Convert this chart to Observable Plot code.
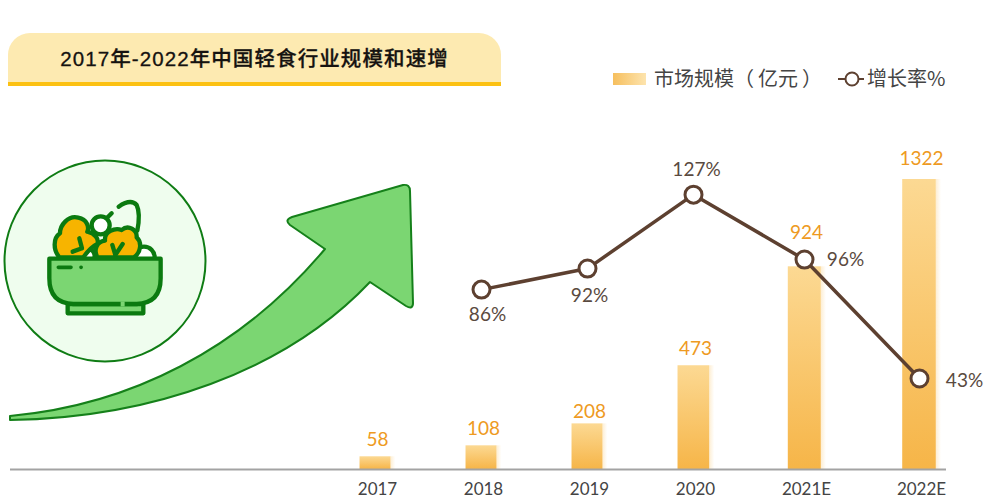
<!DOCTYPE html>
<html lang="zh">
<head>
<meta charset="utf-8">
<script src="https://cdn.jsdelivr.net/npm/d3@7"></script>
<script src="https://cdn.jsdelivr.net/npm/@observablehq/plot@0.6"></script>
<style>
  html, body { margin: 0; padding: 0; background: #fff; overflow: hidden; }
  #stage { position: relative; width: 991px; height: 500px; font-family: "Noto Sans CJK SC", sans-serif; }
  #decor, #chart { position: absolute; left: 0; top: 0; width: 991px; height: 500px; }
  #chart svg { display: block; width: 991px; max-width: none; height: 500px; background: transparent; }
  .banner { position: absolute; left: 8px; top: 33px; width: 493px; height: 49px; background: #fdeab1; border-radius: 22px 22px 0 0; border-bottom: 4px solid #fcc112; }
  .banner div { position: absolute; left: 0; right: 0; top: 12px; text-align: center; font-family: "Liberation Sans", "Noto Sans CJK SC", sans-serif; font-size: 20.5px; line-height: 28px; font-weight: 500; letter-spacing: 1.1px; color: #151210; white-space: nowrap; -webkit-text-stroke: .3px #151210; }
  .legend { position: absolute; top: 64px; font-size: 20px; line-height: 28px; color: #444; white-space: nowrap; }
  .legend span { margin: 0 4px; }
  .swatch { position: absolute; left: 613px; top: 73px; width: 33px; height: 12px; background: linear-gradient(90deg, #f6bf5e, #fde4ae); }
</style>
</head>
<body>
<div id="stage">
  <svg id="decor" width="991" height="500" viewBox="0 0 991 500">
    <circle cx="105" cy="261" r="100.5" fill="#effdee" stroke="#0f7c14" stroke-width="2"/>
    <g transform="translate(0,150) scale(.3333)" stroke="#0b7a10" stroke-width="13" stroke-linejoin="round" stroke-linecap="round">
      <path d="M356 170 Q392 145 410 165 Q422 190 412 242" fill="none"/>
      <path d="M320 205 L335 190" fill="none"/>
      <circle cx="302" cy="226" r="27" fill="#fff"/>
      <circle cx="432" cy="322" r="32" fill="#fff"/>
      <circle cx="262" cy="318" r="22" fill="#fff"/>
      <path d="M178 322 C160 300 158 265 180 250 C180 225 205 195 235 203 C262 208 268 232 262 245 C285 250 298 268 292 282 C275 290 262 305 250 322 Z" fill="#f7b400"/>
      <path d="M292 322 C280 300 290 275 315 272 C312 245 345 232 365 240 C385 222 412 240 410 262 C425 275 425 305 402 322 Z" fill="#f7b400"/>
      <path d="M238 265 L246 295 M218 305 L246 295" fill="none"/>
      <path d="M337 285 L346 315 M368 282 L346 315" fill="none"/>
      <path d="M203 462 V490 H430 V462 Z" fill="#7bd672"/>
      <path d="M148 326 H482 V385 Q482 460 410 462 H220 Q148 460 148 385 Z" fill="#7bd672"/>
      <path d="M362 462 H374" stroke="#7bd672" stroke-width="15" stroke-linecap="butt"/>
      <path d="M175 352 H213 M243 352 H243.5" fill="none" stroke-width="11"/>
    </g>
    <path d="M10 416 C130 405 240 350 325 249 L290 225 Q284 220 292 217 L403 185 Q410 184 410 191 L413 303 Q413 310 406 306 L370 282 C285 372 150 418 10 420 Z" fill="#7bd672" stroke="#15801a" stroke-width="2" stroke-linejoin="round"/>
  </svg>
  <div id="chart"></div>
  <div class="banner"><div>2017年-2022年中国轻食行业规模和速增</div></div>
  <div class="swatch"></div>
  <div class="legend" style="left:654px">市场规模（<span>亿元</span>）</div>
  <svg style="position:absolute;left:836px;top:68px" width="30" height="22">
    <line x1="2" y1="11" x2="28" y2="11" stroke="#5d4030" stroke-width="2"/>
    <circle cx="16" cy="11" r="6.5" fill="#fff" stroke="#5d4030" stroke-width="2"/>
  </svg>
  <div class="legend" style="left:867px">增长率%</div>
</div>
<script>
const years = ["2017", "2018", "2019", "2020", "2021E", "2022E"];
const marketSize = [58, 108, 208, 473, 924, 1322];
const growthYears = ["2018", "2019", "2020", "2021E", "2022E"];
const growthRate = [86, 92, 127, 96, 43];

const bars = years.map((year, i) => ({ i, year, value: marketSize[i] }));
const rates = growthYears.map((year, k) => ({ i: years.indexOf(year), year, rate: growthRate[k] }));

// The growth line has its own axis in the original; map it onto the bar scale.
const rateToBarScale = d3.scaleLinear()
  .domain([43, 86, 92, 96, 127])
  .range([415, 820, 916, 957, 1253]);
const yRate = d => rateToBarScale(d.rate);

const halfBar = 0.146;
const font = "Lato, 'Noto Sans', sans-serif";

const defs = () => {
  const svg = d3.create("svg:defs");
  const v = svg.append("linearGradient").attr("id", "barFill").attr("x1", 0).attr("x2", 0).attr("y1", 0).attr("y2", 1);
  v.append("stop").attr("offset", 0).attr("stop-color", "#fcd993");
  v.append("stop").attr("offset", 1).attr("stop-color", "#f6b548");
  const h = svg.append("linearGradient").attr("id", "barGlow");
  h.append("stop").attr("offset", 0).attr("stop-color", "#fdeed3");
  h.append("stop").attr("offset", 1).attr("stop-color", "#ffffff");
  return svg.node();
};

const rateLabel = (year, dx, dy) => Plot.text(rates.filter(d => d.year === year), {
  x: "i", y: yRate, text: d => d.rate + "%", dx, dy,
  fill: "#5a4a40", fontSize: 19, fontFamily: font
});
const barLabel = (filter, dy) => Plot.text(bars.filter(filter), {
  x: "i", y: "value", text: d => String(d.value), dx: 2, dy,
  fill: "#ee9a22", fontSize: 19, fontFamily: font
});

const chart = Plot.plot({
  width: 991,
  height: 500,
  marginTop: 179,
  marginBottom: 31,
  marginLeft: 10,
  marginRight: 45,
  style: { background: "transparent", overflow: "visible" },
  x: { type: "linear", domain: [0, 1, 2, 3, 4, 5], range: [375, 481, 587, 693, 804, 919], axis: null },
  y: { domain: [0, 1322], axis: null },
  marks: [
    defs,
    Plot.rectY(bars, { x1: d => d.i + halfBar, x2: d => d.i + halfBar + 0.045, y1: 0, y2: "value", fill: "url(#barGlow)" }),
    Plot.rectY(bars, { x1: d => d.i - halfBar, x2: d => d.i + halfBar, y1: 0, y2: "value", fill: "url(#barFill)" }),
    Plot.ruleY([0], { stroke: "#a3a3a3", strokeWidth: 2 }),
    Plot.axisX({
      ticks: d3.range(years.length), tickFormat: i => years[i], tickSize: 0, tickPadding: 13, dx: 2,
      label: null, fontSize: 17, fontFamily: font, color: "#444"
    }),
    Plot.line(rates, { x: "i", y: yRate, stroke: "#5d4030", strokeWidth: 3.5 }),
    Plot.dot(rates, { x: "i", y: yRate, r: 8.5, fill: "#fff", stroke: "#5d4030", strokeWidth: 3 }),
    barLabel(d => ["2017", "2018", "2020"].includes(d.year), -17),
    barLabel(d => d.year === "2019", -12),
    barLabel(d => d.year === "2021E", -34),
    barLabel(d => d.year === "2022E", -21),
    rateLabel("2018", 6, 25),
    rateLabel("2019", 2, 27),
    rateLabel("2020", 3, -25),
    rateLabel("2021E", 41, 0),
    rateLabel("2022E", 45, 2)
  ]
});
document.getElementById("chart").append(chart);
</script>
</body>
</html>
